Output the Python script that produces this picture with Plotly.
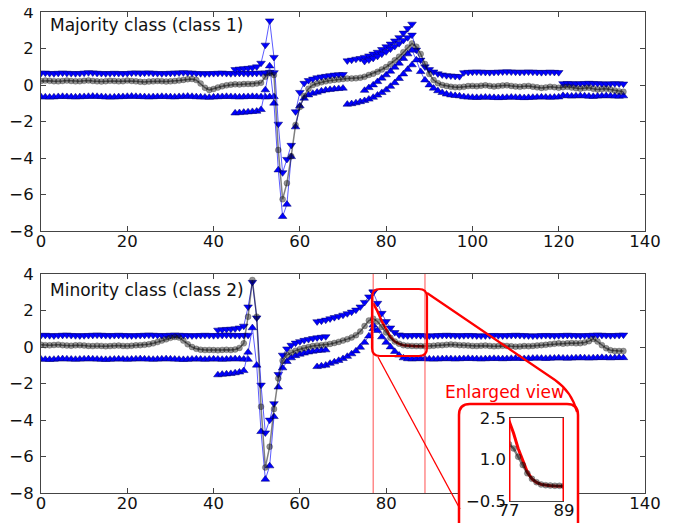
import plotly.graph_objects as go

W, H = 676, 523
OFF = 8  # page body margin of the browser: the figure is drawn 8 px right/down

# ---------------- data ----------------
# x index of every series is 0, 1, 2 ... (time step)
top_mean = [
    0.22, 0.24, 0.23, 0.21, 0.20, 0.22, 0.24, 0.22, 0.20, 0.21,
    0.23, 0.25, 0.22, 0.20, 0.19, 0.21, 0.23, 0.22, 0.20, 0.21,
    0.24, 0.22, 0.20, 0.18, 0.17, 0.19, 0.20, 0.22, 0.21, 0.19,
    0.20, 0.22, 0.25, 0.28, 0.32, 0.33, 0.27, 0.08, -0.15, -0.27,
    -0.22, -0.14, -0.07, -0.02, 0.02, 0.04, 0.03, 0.05, 0.06, 0.05,
    0.08, 0.12, 0.45, 0.65, 0.55, -3.56, -6.26, -5.38, -3.90, -2.19,
    -1.20, -0.60, -0.20, 0.00, 0.08, 0.15, 0.20, 0.24, 0.28, 0.30,
    0.33, 0.35, 0.36, 0.37, 0.40, 0.45, 0.55, 0.62, 0.72, 0.85,
    0.98, 1.15, 1.35, 1.55, 1.80, 2.05, 2.28, 2.10, 1.70, 1.15,
    0.60, 0.27, 0.10, 0.00, -0.05, -0.10, -0.12, -0.12, -0.10, -0.06,
    -0.05, -0.07, -0.04, -0.02, -0.05, -0.08, -0.06, -0.03, -0.02, -0.05,
    -0.08, -0.10, -0.07, -0.05, -0.09, -0.13, -0.16, -0.14, -0.10, -0.12,
    -0.15, -0.12, -0.10, -0.14, -0.18, -0.20, -0.17, -0.15, -0.20, -0.24,
    -0.22, -0.20, -0.25, -0.30, -0.35, -0.37,
]

bot_mean = [
    0.12, 0.10, 0.09, 0.11, 0.13, 0.10, 0.08, 0.07, 0.09, 0.10,
    0.08, 0.06, 0.05, 0.07, 0.06, 0.04, 0.05, 0.07, 0.08, 0.06,
    0.05, 0.07, 0.09, 0.10, 0.12, 0.15, 0.20, 0.27, 0.35, 0.42,
    0.50, 0.55, 0.52, 0.35, 0.15, 0.00, -0.10, -0.15, -0.17, -0.16,
    -0.17, -0.18, -0.16, -0.15, -0.17, -0.14, -0.05, 0.20, 1.66, 3.67,
    1.66, -3.27, -6.60, -5.46, -3.40, -1.72, -0.75, -0.44, -0.30, -0.20,
    -0.12, -0.05, 0.00, 0.05, 0.08, 0.10, 0.13, 0.17, 0.22, 0.28,
    0.35, 0.43, 0.52, 0.65, 0.85, 1.15, 1.45, 1.55, 1.40, 1.10,
    0.80, 0.50, 0.30, 0.18, 0.10, 0.07, 0.06, 0.05, 0.05, 0.04,
    0.05, 0.07, 0.09, 0.10, 0.12, 0.14, 0.12, 0.10, 0.09, 0.08,
    0.06, 0.05, 0.07, 0.08, 0.06, 0.04, 0.05, 0.07, 0.06, 0.04,
    0.02, 0.03, 0.05, 0.04, 0.06, 0.08, 0.10, 0.12, 0.15, 0.18,
    0.20, 0.18, 0.20, 0.22, 0.20, 0.21, 0.25, 0.32, 0.44, 0.30,
    0.10, -0.07, -0.18, -0.22, -0.22, -0.22,
]

# ---- majority class: upper (down-triangle) / lower (up-triangle) bounds, by segment ----
top_seg_start = [0, 45, 59, 71, 75, 98, 121]
top_upper_1 = [
    0.65, 0.66, 0.64, 0.63, 0.65, 0.66, 0.65, 0.64, 0.63, 0.64,
    0.66, 0.68, 0.67, 0.65, 0.64, 0.63, 0.64, 0.65, 0.64, 0.63,
    0.64, 0.66, 0.67, 0.65, 0.66, 0.67, 0.65, 0.64, 0.63, 0.64,
    0.65, 0.66, 0.67, 0.68, 0.67, 0.66, 0.64, 0.63, 0.62, 0.63,
    0.64, 0.65, 0.66, 0.64, 0.63, 0.64, 0.65, 0.64, 0.63, 0.64,
    0.65, 0.66, 0.67, 0.70, 0.68,
]
top_lower_1 = [
    -0.65, -0.66, -0.67, -0.66, -0.64, -0.63, -0.64, -0.65, -0.66, -0.65,
    -0.64, -0.63, -0.62, -0.63, -0.64, -0.66, -0.67, -0.66, -0.65, -0.64,
    -0.63, -0.62, -0.63, -0.64, -0.65, -0.66, -0.65, -0.64, -0.63, -0.64,
    -0.65, -0.66, -0.64, -0.63, -0.62, -0.63, -0.65, -0.66, -0.67, -0.68,
    -0.66, -0.65, -0.64, -0.63, -0.64, -0.65, -0.66, -0.65, -0.64, -0.63,
    -0.64, -0.65, -0.66, -0.65, -0.64,
]
top_upper_2 = [0.85, 0.88, 0.90, 0.92, 0.95, 1.00, 1.20, 2.19, 3.52, 1.52, -2.14, -4.80, -4.07, -3.30]
top_lower_2 = [-1.54, -1.52, -1.50, -1.48, -1.46, -1.44, -1.35, -0.27, 1.04, -1.00, -4.66, -7.21, -6.54, -3.93]
top_upper_3 = [-1.46, -0.40, 0.10, 0.25, 0.33, 0.40, 0.45, 0.48, 0.52, 0.55, 0.57, 0.58]
top_lower_3 = [-2.30, -1.15, -0.73, -0.55, -0.46, -0.40, -0.33, -0.28, -0.25, -0.22, -0.20, -0.18]
top_upper_4 = [1.33, 1.37, 1.42, 1.46, 1.52, 1.60, 1.70, 1.80, 1.95, 2.10, 2.25, 2.42, 2.60, 2.85, 3.10, 3.34]
top_lower_4 = [-1.06, -1.03, -0.98, -0.92, -0.86, -0.78, -0.68, -0.56, -0.42, -0.27, -0.08, 0.12, 0.35, 0.60, 0.85, 1.10]
top_upper_5 = [1.30, 1.38, 1.47, 1.58, 1.70, 1.83, 1.98, 2.12, 2.28, 2.45, 2.60, 2.74,
               1.92, 1.37, 1.00, 0.85, 0.72, 0.62, 0.56, 0.52, 0.50, 0.48, 0.47]
top_lower_5 = [-0.30, -0.15, 0.00, 0.18, 0.37, 0.55, 0.75, 0.97, 1.19, 1.45, 1.70, 1.90,
               1.37, 0.73, 0.27, 0.00, -0.18, -0.32, -0.42, -0.50, -0.55, -0.58, -0.60]
top_upper_6 = [0.68, 0.70, 0.71, 0.72, 0.71, 0.70, 0.69, 0.70, 0.71, 0.72, 0.73, 0.72,
               0.71, 0.70, 0.71, 0.72, 0.71, 0.70, 0.69, 0.70, 0.71, 0.70, 0.69]
top_lower_6 = [-0.65, -0.67, -0.68, -0.69, -0.68, -0.67, -0.68, -0.69, -0.70, -0.69, -0.68, -0.67,
               -0.68, -0.69, -0.70, -0.69, -0.68, -0.67, -0.66, -0.67, -0.68, -0.67, -0.66]
top_upper_7 = [0.08, 0.09, 0.08, 0.07, 0.08, 0.09, 0.10, 0.09, 0.08, 0.07, 0.06, 0.07, 0.08, 0.07, 0.06]
top_lower_7 = [-0.58, -0.60, -0.61, -0.60, -0.59, -0.60, -0.62, -0.63, -0.61, -0.60, -0.59, -0.60, -0.61, -0.62, -0.60]

# ---- minority class ----
bot_seg_start = [0, 41, 55, 64, 77]
bot_upper_1 = [
    0.64, 0.65, 0.63, 0.62, 0.64, 0.65, 0.66, 0.64, 0.63, 0.62,
    0.63, 0.64, 0.65, 0.66, 0.65, 0.64, 0.63, 0.64, 0.65, 0.64,
    0.63, 0.62, 0.63, 0.64, 0.65, 0.66, 0.65, 0.64, 0.63, 0.64,
    0.65, 0.66, 0.65, 0.64, 0.63, 0.62, 0.63, 0.64, 0.65, 0.64,
    0.63, 0.64, 0.65, 0.66, 0.65, 0.64, 0.63, 0.64, 0.65,
]
bot_lower_1 = [
    -0.67, -0.68, -0.69, -0.68, -0.66, -0.65, -0.66, -0.67, -0.68, -0.67,
    -0.66, -0.65, -0.66, -0.67, -0.68, -0.69, -0.68, -0.67, -0.66, -0.67,
    -0.68, -0.67, -0.66, -0.65, -0.66, -0.67, -0.68, -0.67, -0.66, -0.65,
    -0.66, -0.67, -0.68, -0.69, -0.68, -0.67, -0.66, -0.67, -0.68, -0.67,
    -0.66, -0.67, -0.68, -0.67, -0.66, -0.65, -0.66, -0.67, -0.68,
]
bot_upper_2 = [0.93, 0.95, 0.97, 0.98, 1.00, 1.05, 1.15, 2.20, 3.55, 1.60, -2.08, -4.70, -4.00, -3.10]
bot_lower_2 = [-1.53, -1.50, -1.48, -1.46, -1.42, -1.38, -1.30, -0.29, 1.05, -1.00, -4.64, -7.25, -6.52, -3.82]
bot_upper_3 = [-1.50, -0.44, -0.10, 0.10, 0.22, 0.30, 0.37, 0.42, 0.47, 0.51, 0.54, 0.57]
bot_lower_3 = [-2.20, -1.15, -0.80, -0.60, -0.48, -0.40, -0.34, -0.28, -0.24, -0.20, -0.18, -0.16]
bot_upper_4 = [1.39, 1.43, 1.48, 1.55, 1.62, 1.68, 1.75, 1.83, 1.92, 2.03, 2.20, 2.45, 2.75, 3.03]
bot_lower_4 = [-1.08, -1.04, -1.00, -0.90, -0.82, -0.74, -0.64, -0.52, -0.38, -0.22, -0.02, 0.25, 0.60, 1.00]
bot_upper_5 = [
    3.00, 2.40, 1.85, 1.40, 1.05, 0.80, 0.67, 0.63, 0.62, 0.63,
    0.64, 0.63, 0.62, 0.61, 0.62, 0.63, 0.64, 0.65, 0.64, 0.63,
    0.62, 0.63, 0.64, 0.63, 0.62, 0.61, 0.62, 0.63, 0.64, 0.63,
    0.62, 0.63, 0.64, 0.65, 0.64, 0.63, 0.62, 0.61, 0.62, 0.63,
    0.64, 0.63, 0.62, 0.63, 0.64, 0.65, 0.64, 0.63, 0.62, 0.63,
    0.64, 0.65, 0.66, 0.65, 0.64, 0.63, 0.64, 0.65, 0.66,
]
bot_lower_5 = [
    1.20, 0.90, 0.55, 0.25, 0.00, -0.25, -0.45, -0.60, -0.65, -0.66,
    -0.65, -0.64, -0.65, -0.66, -0.67, -0.66, -0.65, -0.64, -0.65, -0.66,
    -0.65, -0.64, -0.63, -0.64, -0.65, -0.66, -0.65, -0.64, -0.63, -0.64,
    -0.65, -0.64, -0.63, -0.62, -0.63, -0.64, -0.63, -0.62, -0.61, -0.62,
    -0.63, -0.62, -0.61, -0.60, -0.61, -0.62, -0.61, -0.60, -0.59, -0.60,
    -0.61, -0.60, -0.59, -0.58, -0.59, -0.60, -0.59, -0.58, -0.59,
]

# highlighted sub-sequence (red) of the minority class
hl_start, hl_end = 77, 89
hl_values = [2.40, 1.95, 1.40, 0.95, 0.55, 0.30, 0.17, 0.10, 0.07, 0.05, 0.04, 0.04, 0.03]

x_ticks = [0, 20, 40, 60, 80, 100, 120, 140]
y_ticks = [-8, -6, -4, -2, 0, 2, 4]
inset_xticks = [77, 89]
inset_yticks = [-0.5, 1.0, 2.5]
inset_yticktext = ["\u22120.5", "1.0", "2.5"]

top_upper = [top_upper_1, top_upper_2, top_upper_3, top_upper_4, top_upper_5, top_upper_6, top_upper_7]
top_lower = [top_lower_1, top_lower_2, top_lower_3, top_lower_4, top_lower_5, top_lower_6, top_lower_7]
bot_upper = [bot_upper_1, bot_upper_2, bot_upper_3, bot_upper_4, bot_upper_5]
bot_lower = [bot_lower_1, bot_lower_2, bot_lower_3, bot_lower_4, bot_lower_5]

# ---------------- styling ----------------
FONT = "DejaVu Sans"
BLUE = "#0000ff"
MEAN_LINE = "rgba(0,0,0,0.5)"
MEAN_MARK = "rgba(20,20,20,0.45)"
RED = "#ff0000"


def px(x):
    return (x - OFF) / W


def py(y):
    return 1 - (y - OFF) / H


fig = go.Figure()


def add_bounds(starts, uppers, lowers, xa, ya):
    for s, up, lo in zip(starts, uppers, lowers):
        for vals, sym in ((up, "triangle-down"), (lo, "triangle-up")):
            xs = list(range(s, s + len(vals)))
            fig.add_trace(go.Scatter(
                x=xs, y=vals, mode="lines+markers", xaxis=xa, yaxis=ya,
                line=dict(color="rgba(50,50,255,0.8)", width=1),
                marker=dict(symbol=sym, size=7.5, color=BLUE,
                            line=dict(color="#00006a", width=0.5)),
                showlegend=False, hoverinfo="skip"))


def add_mean(xs, ys, xa, ya, lw=1.5):
    fig.add_trace(go.Scatter(
        x=xs, y=ys, mode="lines+markers", xaxis=xa, yaxis=ya,
        line=dict(color=MEAN_LINE, width=lw),
        marker=dict(symbol="circle", size=6, color=MEAN_MARK,
                    line=dict(color="rgba(0,0,0,0.4)", width=0.5)),
        showlegend=False, hoverinfo="skip"))


# top panel
add_bounds(top_seg_start, top_upper, top_lower, "x", "y")
add_mean(list(range(len(top_mean))), top_mean, "x", "y")

# bottom panel
add_bounds(bot_seg_start, bot_upper, bot_lower, "x2", "y2")
hl_x = list(range(hl_start, hl_end + 1))
fig.add_trace(go.Scatter(x=hl_x, y=hl_values, mode="lines", xaxis="x2", yaxis="y2",
                         line=dict(color=RED, width=2.5), showlegend=False, hoverinfo="skip"))
add_mean(list(range(len(bot_mean))), bot_mean, "x2", "y2")

# white cover under the enlarged view (empty subplot, its background hides what is below)
fig.add_trace(go.Scatter(x=[], y=[], xaxis="x3", yaxis="y3", showlegend=False))

# inset (enlarged view)
fig.add_trace(go.Scatter(x=hl_x, y=hl_values, mode="lines", xaxis="x4", yaxis="y4",
                         line=dict(color=RED, width=3), showlegend=False, hoverinfo="skip"))
add_mean(hl_x, bot_mean[hl_start:hl_end + 1], "x4", "y4", lw=2.5)

tickfont = dict(family=FONT, size=16.5, color="#111")
AX = dict(showgrid=False, zeroline=False, showline=True, mirror="ticks",
          linecolor="#444", linewidth=1, ticks="inside", ticklen=5,
          tickcolor="#444", tickwidth=1, tickfont=tickfont, automargin=False,
          ticklabeloverflow="allow")
AXX = dict(AX, ticklabelstandoff=-5)
AXY = dict(AX, ticklabelstandoff=3)

top_y = [py(231), py(12)]
bot_y = [py(493), py(274)]
xdom = [px(41), px(645)]

fig.update_layout(
    width=W, height=H, autosize=False,
    margin=dict(l=0, r=0, t=0, b=0, pad=0, autoexpand=False),
    paper_bgcolor="white", plot_bgcolor="white",
    xaxis=dict(AXX, domain=xdom, range=[0, 140], tickvals=x_ticks, anchor="y"),
    yaxis=dict(AXY, domain=top_y, range=[-8, 4], tickvals=y_ticks, anchor="x"),
    xaxis2=dict(AXX, domain=xdom, range=[0, 140], tickvals=x_ticks, anchor="y2"),
    yaxis2=dict(AXY, domain=bot_y, range=[-8, 4], tickvals=y_ticks, anchor="x2"),
    xaxis3=dict(domain=[px(459), px(578)], range=[0, 1], visible=False, anchor="y3", automargin=False),
    yaxis3=dict(domain=[0, py(404)], range=[0, 1], visible=False, anchor="x3", automargin=False),
    xaxis4=dict(AX, domain=[px(509), px(564)], range=[77, 89], tickvals=inset_xticks,
                mirror=True, ticks="", anchor="y4", ticklabelstandoff=-6),
    yaxis4=dict(AX, domain=[py(501), py(418)], range=[-0.5, 2.5], tickvals=inset_yticks,
                ticktext=inset_yticktext, showline=False, ticks="", anchor="x4",
                ticklabelstandoff=2),
)


def rounded(x0, y0, x1, y1, r):
    pts = [
        f"M{px(x0 + r):.5f},{py(y0):.5f}",
        f"L{px(x1 - r):.5f},{py(y0):.5f}",
        f"Q{px(x1):.5f},{py(y0):.5f} {px(x1):.5f},{py(y0 + r):.5f}",
        f"L{px(x1):.5f},{py(y1 - r):.5f}",
        f"Q{px(x1):.5f},{py(y1):.5f} {px(x1 - r):.5f},{py(y1):.5f}",
        f"L{px(x0 + r):.5f},{py(y1):.5f}",
        f"Q{px(x0):.5f},{py(y1):.5f} {px(x0):.5f},{py(y1 - r):.5f}",
        f"L{px(x0):.5f},{py(y0 + r):.5f}",
        f"Q{px(x0):.5f},{py(y0):.5f} {px(x0 + r):.5f},{py(y0):.5f} Z",
    ]
    return " ".join(pts)


shapes = []
# vertical markers of the highlighted interval
for xv in (hl_start, hl_end):
    shapes.append(dict(type="line", xref="x2", yref="y2 domain", x0=xv, x1=xv, y0=0, y1=1,
                       line=dict(color="rgba(255,60,60,0.75)", width=1.2), layer="above"))
    shapes.append(dict(type="line", xref="x4", yref="y4 domain", x0=xv, x1=xv, y0=0, y1=1,
                       line=dict(color=RED, width=3), layer="above"))
# rounded rectangle around highlighted part
shapes.append(dict(type="path", xref="paper", yref="paper", path=rounded(372, 289, 427, 356, 8),
                   line=dict(color=RED, width=2.2), layer="above"))
# enlarged-view frame
shapes.append(dict(type="path", xref="paper", yref="paper", path=rounded(459, 404, 578, 540, 11),
                   line=dict(color=RED, width=2.5), layer="above"))
# callout lines
shapes.append(dict(type="path", xref="paper", yref="paper",
                   path=f"M{px(427):.5f},{py(293):.5f} L{px(555):.5f},{py(380):.5f} "
                        f"Q{px(572):.5f},{py(392):.5f} {px(577):.5f},{py(412):.5f}",
                   line=dict(color=RED, width=2.2), layer="above"))
shapes.append(dict(type="path", xref="paper", yref="paper",
                   path=f"M{px(378):.5f},{py(357):.5f} L{px(460):.5f},{py(509):.5f}",
                   line=dict(color=RED, width=1.3), layer="above"))

fig.update_layout(shapes=shapes)

fig.add_annotation(text="Majority class (class 1)", xref="paper", yref="paper",
                   x=px(48), y=py(25), xanchor="left", yanchor="middle", showarrow=False,
                   font=dict(family=FONT, size=17, color="#111"))
fig.add_annotation(text="Minority class (class 2)", xref="paper", yref="paper",
                   x=px(48), y=py(290), xanchor="left", yanchor="middle", showarrow=False,
                   font=dict(family=FONT, size=17, color="#111"))
fig.add_annotation(text="Enlarged view", xref="paper", yref="paper",
                   x=px(505), y=py(392), xanchor="center", yanchor="middle", showarrow=False,
                   font=dict(family=FONT, size=17, color=RED))

fig.write_html("out.html")
